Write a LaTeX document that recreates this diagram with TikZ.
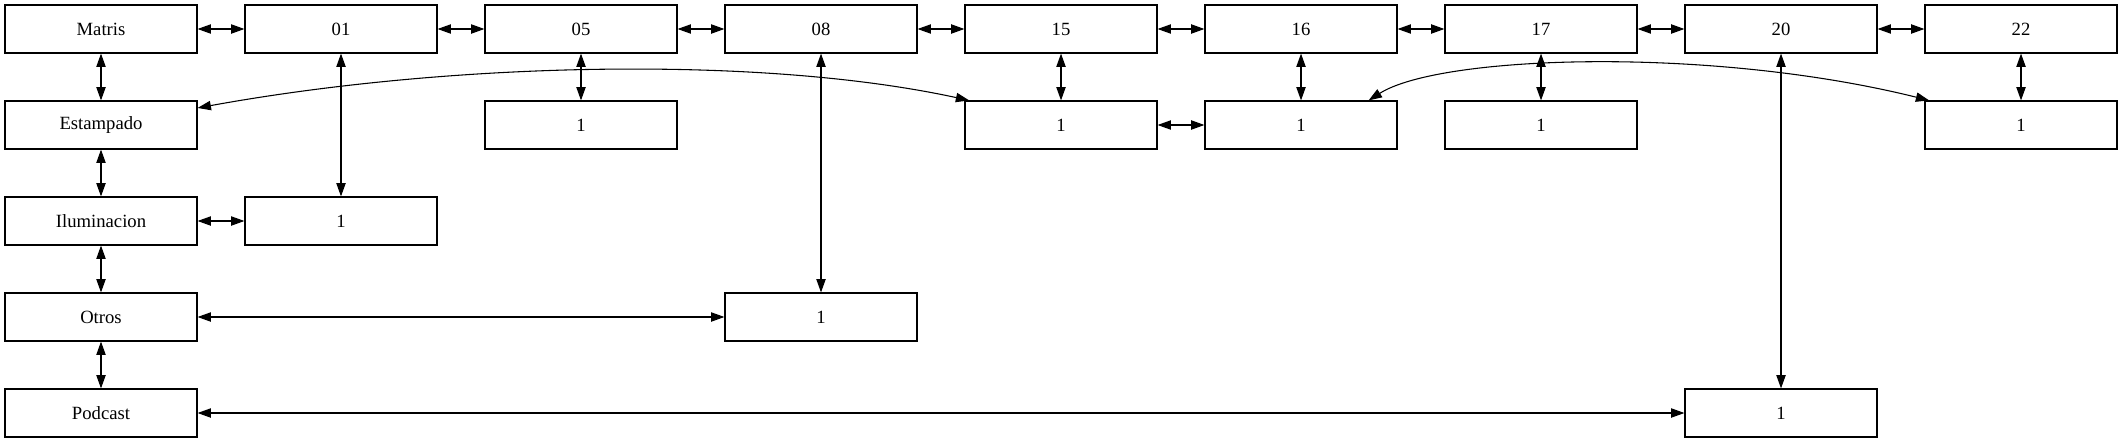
\documentclass[tikz,border=0pt]{standalone}
\usepackage{fontspec}
\setmainfont{Liberation Serif}
\usetikzlibrary{arrows.meta}
\begin{document}
\begin{tikzpicture}[x=0.75pt,y=-0.75pt,
  box/.style={draw, line width=0.9pt, minimum width=144pt, minimum height=36pt, inner sep=0pt, font=\fontsize{14}{16}\selectfont},
  link/.style={{Triangle[length=10pt,width=7pt]}-{Triangle[length=10pt,width=7pt]}, line width=0.8pt}]
\useasboundingbox (0,0) rectangle (2123,443);
% row 0
\node[box] (m)   at (101,29)  {Matris};
\node[box] (a01) at (341,29)  {01};
\node[box] (a05) at (581,29)  {05};
\node[box] (a08) at (821,29)  {08};
\node[box] (a15) at (1061,29) {15};
\node[box] (a16) at (1301,29) {16};
\node[box] (a17) at (1541,29) {17};
\node[box] (a20) at (1781,29) {20};
\node[box] (a22) at (2021,29) {22};
% row 1
\node[box] (est) at (101,125)  {Estampado};
\node[box] (b05) at (581,125)  {1};
\node[box] (b15) at (1061,125) {1};
\node[box] (b16) at (1301,125) {1};
\node[box] (b17) at (1541,125) {1};
\node[box] (b22) at (2021,125) {1};
% row 2
\node[box] (ilu) at (101,221) {Iluminacion};
\node[box] (c01) at (341,221) {1};
% row 3
\node[box] (otr) at (101,317) {Otros};
\node[box] (d08) at (821,317) {1};
% row 4
\node[box] (pod) at (101,413)  {Podcast};
\node[box] (e20) at (1781,413) {1};
% top chain
\draw[link] (m) -- (a01);
\draw[link] (a01) -- (a05);
\draw[link] (a05) -- (a08);
\draw[link] (a08) -- (a15);
\draw[link] (a15) -- (a16);
\draw[link] (a16) -- (a17);
\draw[link] (a17) -- (a20);
\draw[link] (a20) -- (a22);
% left column
\draw[link] (m) -- (est);
\draw[link] (est) -- (ilu);
\draw[link] (ilu) -- (otr);
\draw[link] (otr) -- (pod);
% verticals
\draw[link] (a01) -- (c01);
\draw[link] (a05) -- (b05);
\draw[link] (a08) -- (d08);
\draw[link] (a15) -- (b15);
\draw[link] (a16) -- (b16);
\draw[link] (a17) -- (b17);
\draw[link] (a20) -- (e20);
\draw[link] (a22) -- (b22);
% horizontals
\draw[link] (ilu) -- (c01);
\draw[link] (otr) -- (d08);
\draw[link] (pod) -- (e20);
\draw[link] (b15) -- (b16);
% curves
\draw[link] (est.10.6) .. controls (450,62) and (760,55) .. (b15.165.5);
\draw[link] (b16.20.6) .. controls (1440,55) and (1710,46) .. (b22.165);
\end{tikzpicture}
\end{document}
